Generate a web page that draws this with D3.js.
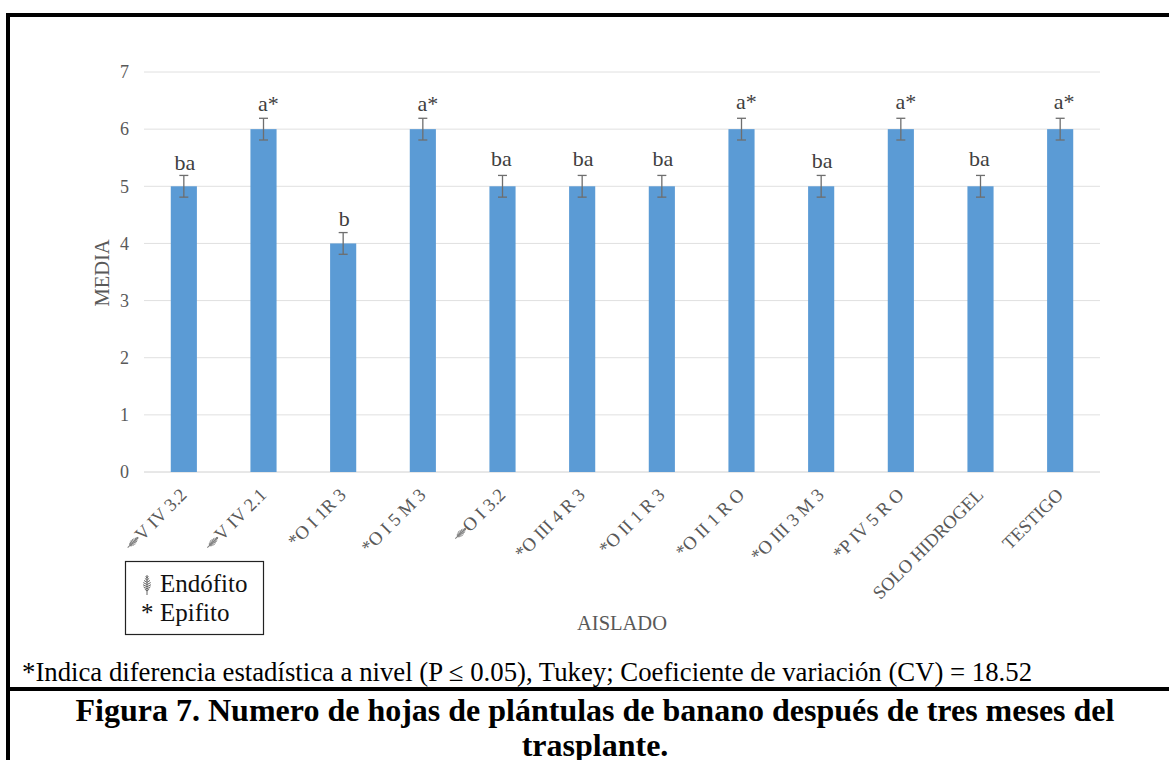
<!DOCTYPE html>
<html>
<head>
<meta charset="utf-8">
<script src="https://cdn.jsdelivr.net/npm/d3@7"></script>
<style>
  html, body { margin: 0; padding: 0; background: #fff; }
  svg { display: block; }
  text { font-family: "Liberation Serif", serif; }
</style>
</head>
<body>
<svg id="chart" width="1169" height="760"></svg>
<script>
// "E" = endofito (leaf glyph in front of the label), the rest already carry their *
const categories = ["V IV 3.2", "V IV 2.1", "*O I 1R 3", "*O I 5 M 3", "O I 3.2", "*O III 4 R 3",
    "*O II 1 R 3", "*O II 1 R O", "*O III 3 M 3", "*P IV 5 R O", "SOLO HIDROGEL", "TESTIGO"];
const tipos = ["E", "E", "", "", "E", "", "", "", "", "", "", ""];
const medias = [5, 6, 4, 6, 5, 5, 5, 6, 5, 6, 5, 6];
const errores = [0.19, 0.19, 0.19, 0.19, 0.19, 0.19, 0.19, 0.19, 0.19, 0.19, 0.19, 0.19];
const letras = ["ba", "a*", "b", "a*", "ba", "ba", "ba", "a*", "ba", "a*", "ba", "a*"];
const yTicks = [0, 1, 2, 3, 4, 5, 6, 7];

const svg = d3.select("#chart");

const x = d3.scaleBand().domain(categories).range([144, 1100]).paddingInner(0.672).paddingOuter(0.336);
const y = d3.scaleLinear().domain([0, 7]).range([472, 72]);

// small leaf used for "Endofito", drawn around 0,0
function leaf(g, size, color) {
    let s = size / 14;
    let p = d3.path();
    p.moveTo(0, -7 * s);
    p.lineTo(0, 7 * s);
    [[-5.5, 0.9], [-4, 1.5], [-2.5, 2.1], [-1, 2.6], [0.5, 2.8], [2, 2.4], [3.5, 1.6]].forEach(r => {
        p.moveTo(-r[1] * s, (r[0] - 0.7) * s);
        p.lineTo(0, (r[0] + 0.7) * s);
        p.lineTo(r[1] * s, (r[0] - 0.7) * s);
    });
    g.append("path").attr("d", p.toString()).attr("fill", "none")
        .attr("stroke", color).attr("stroke-width", 1);
}

// gridlines
svg.append("g").selectAll("line").data(yTicks).join("line")
    .attr("x1", 144).attr("x2", 1100)
    .attr("y1", d => y(d)).attr("y2", d => y(d))
    .attr("stroke", d => d === 0 ? "#d0d0d0" : "#e0e0e0").attr("stroke-width", 1);

// y axis labels
let yAxis = svg.append("g").attr("transform", "translate(129,0)")
    .call(d3.axisLeft(y).tickValues(yTicks).tickFormat(d3.format("d")).tickSize(0).tickPadding(0));
yAxis.select(".domain").remove();
yAxis.selectAll("text").attr("font-family", "Liberation Serif").attr("font-size", 18).attr("fill", "#595959");

// bars
svg.append("g").selectAll("rect").data(medias).join("rect")
    .attr("x", (d, i) => x(categories[i]))
    .attr("y", d => y(d))
    .attr("width", x.bandwidth())
    .attr("height", d => y(0) - y(d))
    .attr("fill", "#5b9bd5");

// error bars
let err = svg.append("g").attr("stroke", "#6e6e6e").attr("stroke-width", 1.3).attr("fill", "none");
medias.forEach((m, i) => {
    let cx = x(categories[i]) + x.bandwidth() / 2;
    let y1 = y(m + errores[i]), y2 = y(m - errores[i]);
    err.append("line").attr("x1", cx).attr("x2", cx).attr("y1", y1).attr("y2", y2);
    err.append("line").attr("x1", cx - 4.5).attr("x2", cx + 4.5).attr("y1", y1).attr("y2", y1);
    err.append("line").attr("x1", cx - 4.5).attr("x2", cx + 4.5).attr("y1", y2).attr("y2", y2);
});

// letters above the bars, they were placed by hand in the figure so each has its own nudge
const nudgeX = [1, 5, 1, 5, -1, 1, 1, 5, 1, 5, -1, 4];
const nudgeY = [16, 18, 17, 18, 20, 20, 20, 20, 18, 20, 20, 20];
svg.append("g").selectAll("text").data(letras).join("text")
    .attr("x", (d, i) => x(categories[i]) + x.bandwidth() / 2 + nudgeX[i])
    .attr("y", (d, i) => y(medias[i]) - nudgeY[i])
    .attr("text-anchor", "middle")
    .attr("font-size", 22)
    .attr("fill", "#404040")
    .text(d => d);

// category labels at -45 deg
let xLabels = svg.append("g").selectAll("g").data(categories).join("g")
    .attr("transform", d => `translate(${x(d) + x.bandwidth() / 2 + 4},${496}) rotate(-45)`);
xLabels.append("text")
    .attr("text-anchor", "end")
    .attr("font-size", 18.5)
    .attr("fill", "#595959")
    .text(d => d);
xLabels.each(function(d, i) {
    if (tipos[i] !== "E") return;
    let g = d3.select(this);
    let w = g.select("text").node().getComputedTextLength();
    let l = g.append("g").attr("transform", `translate(${-w - 7},-6) rotate(90)`);
    leaf(l, 15, "#808080");
});

// axis titles
svg.append("text")
    .attr("transform", "translate(109,273) rotate(-90)")
    .attr("text-anchor", "middle")
    .attr("font-size", 20.5)
    .attr("fill", "#595959")
    .text("MEDIA");
svg.append("text")
    .attr("x", 622).attr("y", 630)
    .attr("text-anchor", "middle")
    .attr("font-size", 20.5)
    .attr("fill", "#595959")
    .text("AISLADO");

// legend box
svg.append("rect").attr("x", 125.5).attr("y", 561.5).attr("width", 138).attr("height", 73)
    .attr("fill", "#fff").attr("stroke", "#222").attr("stroke-width", 1.2);
leaf(svg.append("g").attr("transform", "translate(147,585)"), 20, "#666");
svg.append("text").attr("x", 160).attr("y", 592).attr("font-size", 25).attr("fill", "#111").text("Endófito");
svg.append("text").attr("x", 141).attr("y", 621).attr("font-size", 25).attr("fill", "#111").text("*");
svg.append("text").attr("x", 160).attr("y", 621).attr("font-size", 25).attr("fill", "#111").text("Epifito");

// footnote and caption
svg.append("text").attr("x", 22).attr("y", 680.5).attr("font-size", 26.75).attr("fill", "#000")
    .text("*Indica diferencia estadística a nivel (P ≤ 0.05), Tukey; Coeficiente de variación (CV) = 18.52");
svg.append("text").attr("x", 595).attr("y", 721).attr("text-anchor", "middle")
    .attr("font-size", 32).attr("font-weight", "bold").attr("fill", "#000")
    .text("Figura 7. Numero de hojas de plántulas de banano después de tres meses del");
svg.append("text").attr("x", 595).attr("y", 756).attr("text-anchor", "middle")
    .attr("font-size", 32).attr("font-weight", "bold").attr("fill", "#000")
    .text("trasplante.");

// black frame of the figure
let frame = svg.append("g").attr("stroke", "#000").attr("stroke-width", 4);
frame.append("line").attr("x1", 6).attr("x2", 1169).attr("y1", 15).attr("y2", 15);
frame.append("line").attr("x1", 8).attr("x2", 8).attr("y1", 13).attr("y2", 760);
frame.append("line").attr("x1", 8).attr("x2", 1169).attr("y1", 689).attr("y2", 689);
</script>
</body>
</html>
